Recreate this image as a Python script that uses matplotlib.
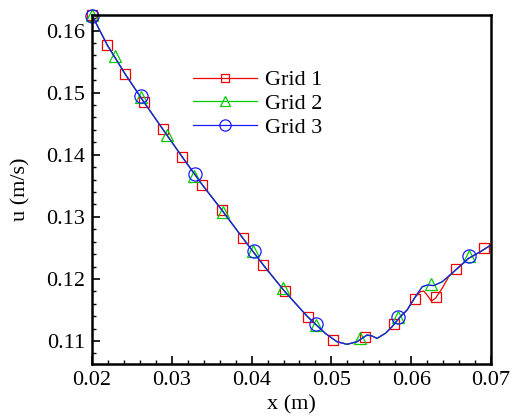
import matplotlib
matplotlib.use("Agg")
import matplotlib.pyplot as plt
from matplotlib.lines import Line2D
import numpy as np

plt.rcParams['font.family'] = 'serif'
plt.rcParams['font.serif'] = ['Liberation Serif', 'DejaVu Serif']

# velocity profile shared by all grids up to x ~ 0.0605
x_common = [0.02000, 0.02192, 0.02414, 0.02652, 0.02887, 0.03133, 0.03380, 0.03631,
            0.03891, 0.04149, 0.04413, 0.04701, 0.04923, 0.05070, 0.05196, 0.05321,
            0.05447, 0.05509, 0.05572, 0.05676, 0.05760, 0.05864, 0.05949, 0.06053]
u_common = [0.16245, 0.15765, 0.15302, 0.14846, 0.14411, 0.13960, 0.13519, 0.13103,
            0.12655, 0.12220, 0.11801, 0.11392, 0.11124, 0.10989, 0.10947, 0.10989,
            0.11097, 0.11081, 0.11043, 0.11124, 0.11230, 0.11392, 0.11500, 0.11714]

# tails where the grids differ
x_tail_g1 = [0.06115, 0.06157, 0.06199, 0.06253, 0.06304, 0.06388, 0.06470, 0.06555,
             0.06721, 0.06868, 0.07000]
u_tail_g1 = [0.11794, 0.11805, 0.11741, 0.11644, 0.11688, 0.11849, 0.12036, 0.12144,
             0.12333, 0.12439, 0.12547]
x_tail_g2 = [0.06137, 0.06199, 0.06282, 0.06388, 0.06533, 0.06721, 0.06868, 0.07000]
u_tail_g2 = [0.11870, 0.11900, 0.11896, 0.11950, 0.12112, 0.12333, 0.12439, 0.12547]
x_tail_g3 = [0.06137, 0.06199, 0.06282, 0.06388, 0.06533, 0.06721, 0.06868, 0.07000]
u_tail_g3 = [0.11875, 0.11902, 0.11891, 0.11956, 0.12117, 0.12333, 0.12439, 0.12547]

# symbol positions
x_sym_g1 = [0.02000, 0.02192, 0.02414, 0.02652, 0.02887, 0.03133, 0.03380, 0.03631,
            0.03891, 0.04149, 0.04413, 0.04701, 0.05020, 0.05425, 0.05780, 0.06044,
            0.06316, 0.06567, 0.06910]
u_sym_g1 = [0.16245, 0.15765, 0.15302, 0.14846, 0.14411, 0.13960, 0.13518, 0.13103,
            0.12655, 0.12220, 0.11801, 0.11392, 0.11016, 0.11070, 0.11274, 0.11672,
            0.11714, 0.12156, 0.12499]
x_sym_g2 = [0.02000, 0.02289, 0.02615, 0.02937, 0.03284, 0.03640, 0.04020, 0.04393,
            0.04807, 0.05354, 0.05835, 0.06249, 0.06726]
u_sym_g2 = [0.16245, 0.15592, 0.14932, 0.14319, 0.13659, 0.13078, 0.12450, 0.11849,
            0.11258, 0.11048, 0.11392, 0.11918, 0.12369]
x_sym_g3 = [0.02000, 0.02615, 0.03296, 0.04024, 0.04807, 0.05835, 0.06726]
u_sym_g3 = [0.16237, 0.14948, 0.13691, 0.12455, 0.11269, 0.11392, 0.12369]

labels = ["Grid 1", "Grid 2", "Grid 3"]
colors = ["#ee0000", "#00cc00", "#1a1aff"]
markers = ["s", "^", "o"]
msizes = [7.5, 8.5, 9.5]

curves = [
    (x_common + x_tail_g1, u_common + u_tail_g1),
    (x_common + x_tail_g2, u_common + u_tail_g2),
    (x_common + x_tail_g3, u_common + u_tail_g3),
]
symbols = [(x_sym_g1, u_sym_g1), (x_sym_g2, u_sym_g2), (x_sym_g3, u_sym_g3)]

fig = plt.figure(figsize=(5.13, 4.2), dpi=100)
ax = fig.add_axes([92 / 513, 56 / 420, 399 / 513, 349 / 420])

for (xc, uc), (xs, us), c, m, ms in zip(curves, symbols, colors, markers, msizes):
    ax.plot(xc, uc, color=c, lw=0.9)
    ax.plot(xs, us, ls="none", marker=m, ms=ms, mfc="none", mec=c, mew=0.9,
            clip_on=False)

ax.set_xlim(0.02, 0.07)
ax.set_ylim(0.1063, 0.1625)
ax.set_xticks(np.arange(0.02, 0.0701, 0.01))
ax.set_yticks(np.arange(0.11, 0.1601, 0.01))
ax.set_xticks(np.arange(0.02, 0.0701, 0.002), minor=True)
ax.set_yticks(np.arange(0.108, 0.1621, 0.002), minor=True)
ax.set_xticklabels(["%.2f" % v for v in np.arange(0.02, 0.0701, 0.01)])
ax.set_yticklabels(["%.2f" % v for v in np.arange(0.11, 0.1601, 0.01)])
ax.tick_params(which="major", direction="in", length=6, width=1.2, labelsize=16, pad=5)
ax.tick_params(which="minor", direction="in", length=3, width=1.0)
for s in ax.spines.values():
    s.set_linewidth(1.8)

ax.set_xlabel("x (m)", fontsize=16, labelpad=4)
ax.set_ylabel("u (m/s)", fontsize=16, labelpad=11)

handles = [Line2D([], [], color=c, lw=0.9, marker=m, ms=ms * 0.85, mfc="none", mec=c,
                  mew=0.9) for c, m, ms in zip(colors, markers, msizes)]
ax.legend(handles, labels, loc="upper left", bbox_to_anchor=(0.253, 0.843),
          frameon=False, fontsize=16, handlelength=2.9, handletextpad=0.35,
          labelspacing=0.14, borderpad=0, borderaxespad=0)

fig.savefig("out.png", dpi=100)
